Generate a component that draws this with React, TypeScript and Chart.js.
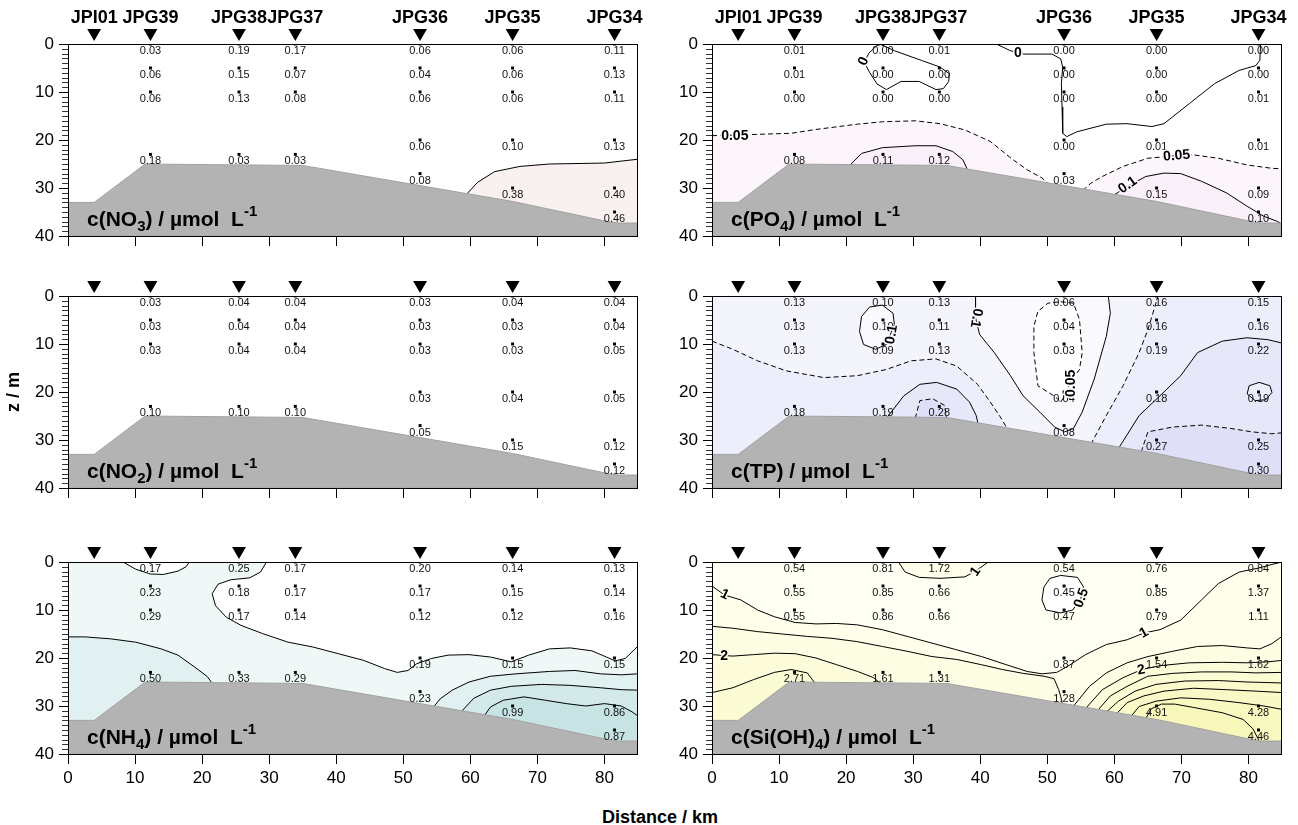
import React, { useEffect, useRef } from 'react';
import { Chart, registerables } from 'chart.js';

Chart.register(...registerables);

const FONT = '"Liberation Sans", Arial, Helvetica, sans-serif';
Chart.defaults.font.family = FONT;

// ---------------- stations & sampling ----------------
const STATION_NAMES = ['JPI01', 'JPG39', 'JPG38', 'JPG37', 'JPG36', 'JPG35', 'JPG34'];
const STATION_KM = [3.9, 12.3, 25.5, 33.9, 52.5, 66.3, 81.5];
const MARKER_DEPTH = -2.3;
const SAMPLED_STATIONS = [1, 2, 3, 4, 5, 6];
const SAMPLE_DEPTHS = [
  [0, 5, 10, 23],
  [0, 5, 10, 23],
  [0, 5, 10, 23],
  [0, 5, 10, 20, 27],
  [0, 5, 10, 20, 30],
  [0, 5, 10, 20, 30, 35],
];
const X_TICKS = [0, 10, 20, 30, 40, 50, 60, 70, 80];
const Y_TICKS = [0, 10, 20, 30, 40];
const X_MAX = 85;
const Y_MAX = 40;

// sea floor (km, m)
const BATHYMETRY = [
  [0, 33], [3.9, 33], [11.5, 25], [35, 25.3], [52.5, 29.5], [66.3, 32.8],
  [80.5, 37], [82, 37.3], [85, 37.3], [85, 40], [0, 40],
];

// ---------------- measured values ----------------
const NO3_VALUES = [
  [0.03, 0.06, 0.06, 0.18],
  [0.19, 0.15, 0.13, 0.03],
  [0.17, 0.07, 0.08, 0.03],
  [0.06, 0.04, 0.06, 0.06, 0.08],
  [0.06, 0.06, 0.06, 0.10, 0.38],
  [0.11, 0.13, 0.11, 0.13, 0.40, 0.46],
];
const PO4_VALUES = [
  [0.01, 0.01, 0.00, 0.08],
  [0.00, 0.00, 0.00, 0.11],
  [0.01, 0.00, 0.00, 0.12],
  [0.00, 0.00, 0.00, 0.00, 0.03],
  [0.00, 0.00, 0.00, 0.01, 0.15],
  [0.00, 0.00, 0.01, 0.01, 0.09, 0.10],
];
const NO2_VALUES = [
  [0.03, 0.03, 0.03, 0.10],
  [0.04, 0.04, 0.04, 0.10],
  [0.04, 0.04, 0.04, 0.10],
  [0.03, 0.03, 0.03, 0.03, 0.05],
  [0.04, 0.03, 0.03, 0.04, 0.15],
  [0.04, 0.04, 0.05, 0.05, 0.12, 0.12],
];
const TP_VALUES = [
  [0.13, 0.13, 0.13, 0.18],
  [0.10, 0.10, 0.09, 0.19],
  [0.13, 0.11, 0.13, 0.28],
  [0.06, 0.04, 0.03, 0.04, 0.08],
  [0.16, 0.16, 0.19, 0.18, 0.27],
  [0.15, 0.16, 0.22, 0.19, 0.25, 0.30],
];
const NH4_VALUES = [
  [0.17, 0.23, 0.29, 0.50],
  [0.25, 0.18, 0.17, 0.33],
  [0.17, 0.17, 0.14, 0.29],
  [0.20, 0.17, 0.12, 0.19, 0.23],
  [0.14, 0.15, 0.12, 0.15, 0.99],
  [0.13, 0.14, 0.16, 0.15, 0.86, 0.87],
];
const SI_VALUES = [
  [0.54, 0.55, 0.55, 2.71],
  [0.81, 0.85, 0.86, 1.61],
  [1.72, 0.66, 0.66, 1.31],
  [0.54, 0.45, 0.47, 0.87, 1.28],
  [0.76, 0.85, 0.79, 1.54, 4.91],
  [0.84, 1.37, 1.11, 1.62, 4.28, 4.46],
];

// ---------------- isolines (km, m) ----------------
const NO3_ISO_020 = [[59.3, 31.5], [61.1, 28.8], [63.6, 26.6], [67.4, 25.5], [71.8, 25.0], [80, 24.8], [82.5, 24.4], [85, 24.0]];

const PO4_ISO_000_A = [[25.2, 0.1], [27.2, 1.4], [31.2, 3.4], [34.0, 4.8], [35.4, 6.2], [35.3, 7.8], [34.5, 9.3], [33.4, 9.5], [30.9, 7.8], [28.2, 7.8], [26.0, 9.5], [24.6, 8.3], [23.5, 5.9], [22.7, 3.8], [23.4, 1.9], [24.6, 0.3], [25.2, 0.1]];
const PO4_ISO_000_B = [[42.4, 0], [44.5, 1.4], [46.5, 2.1], [50.7, 2.1], [52.0, 3.1], [52.3, 4.8], [52.1, 8.3], [52.2, 13.1], [52.3, 18.6], [52.9, 19.3], [54.4, 18.3], [58.8, 16.7], [61.9, 16.6], [65.6, 17.2], [67.4, 16.6], [71.2, 12.4], [74.9, 8.3], [78.6, 5.5], [81.1, 4.5], [81.7, 3.4], [81.8, 0]];
const PO4_ISO_005_A = [[0, 19.1], [5, 18.9], [11.8, 18.6], [15.5, 17.8], [21.7, 16.7], [25.4, 16.2], [30.3, 16.0], [34.0, 16.6], [37.7, 17.9], [41.5, 20.3], [44.6, 23.8], [47.0, 26.2], [49.2, 27.9], [50.3, 29.3]];
const PO4_ISO_005_B = [[55.3, 30.5], [56.5, 29.0], [58.2, 27.6], [61.3, 25.5], [65.0, 23.8], [69, 23.3], [71.8, 23.1], [75.5, 23.8], [79.8, 25.2], [83.5, 25.9], [85, 26.0]];
const PO4_ISO_010_A = [[20.4, 25.5], [22.3, 22.8], [25.4, 21.6], [30.3, 21.2], [33.4, 21.2], [35.9, 22.4], [37.4, 24.1], [38.2, 26.5]];
const PO4_ISO_010_B = [[59.8, 31.6], [61.9, 29.7], [64.7, 27.6], [67.4, 26.9], [69.9, 27.0], [73, 28.6], [76.7, 31.0], [79.8, 33.8], [82.3, 35.9], [84.2, 36.9], [85, 37.5]];

const TP_ISO_010_A = [[25.4, 1.9], [27.0, 3.6], [27.2, 6.0], [26.6, 8.0], [26.0, 10.1], [24.4, 11.1], [22.6, 10.1], [22.0, 7.4], [22.3, 4.3], [23.5, 2.3], [25.4, 1.9]];
const TP_ISO_010_B = [[39.3, 0], [39.3, 4.5], [39.9, 8.0], [42.1, 11.8], [44.5, 16.6], [46.4, 20.8], [48.9, 24.2], [51.1, 27.3], [52.6, 28.3], [53.9, 27.6], [55.2, 24.2], [57.0, 17.3], [58.8, 8.4], [59.4, 3.6], [59.1, 0]];
const TP_ISO_005 = [[52.0, 1.2], [53.9, 1.5], [54.8, 4.9], [55.2, 11.8], [54.8, 15.3], [53.4, 18.0], [52.6, 20.8], [52.0, 22.1], [51.2, 21.0], [48.6, 18.7], [48.0, 11.8], [48.0, 6.3], [48.6, 3.2], [50.1, 1.5], [52.0, 1.2]];
const TP_ISO_015_L = [[0, 9.4], [3.1, 11.1], [6.8, 13.5], [11.1, 15.6], [16.7, 17.0], [21.7, 16.6], [26.0, 15.3], [29.7, 13.5], [33.4, 13.1], [36.5, 14.6], [39.6, 18.4], [41.5, 22.1], [43.0, 25.2], [44.1, 27.8]];
const TP_ISO_020_L = [[26.0, 25.5], [28.6, 20.8], [31.0, 18.4], [33.5, 18.0], [36.5, 19.4], [38.4, 22.1], [39.4, 24.9], [39.7, 26.8]];
const TP_ISO_025_L = [[30.3, 25.5], [31.0, 21.8], [32.9, 21.4], [34.7, 22.8], [35.0, 25.6]];
const TP_ISO_015_R = [[56.5, 30.9], [58.8, 24.9], [61.3, 18.7], [63.7, 11.8], [65.0, 7.0], [65.9, 2.9], [66.5, 0]];
const TP_ISO_020_R = [[60.6, 31.8], [63.7, 24.9], [66.8, 20.8], [69.9, 16.6], [72.4, 11.8], [76.1, 9.4], [79.8, 8.7], [82.9, 9.1], [85, 9.8]];
const TP_ISO_020_LOOP = [[80.1, 18.7], [81.6, 18.0], [83.2, 18.7], [83.5, 20.1], [82.6, 21.6], [81.0, 21.8], [79.8, 20.4], [80.1, 18.7]];
const TP_ISO_025_R = [[64.0, 32.5], [65.0, 28.3], [68.7, 27.3], [73.0, 26.9], [77.4, 27.6], [80.5, 28.3], [83.5, 28.7], [85, 28.5]];

const NH4_ISO_020_A = [[8.2, 0], [10.1, 1.5], [12.3, 2.5], [14.2, 2.6], [16.4, 1.9], [17.6, 1.0], [18.1, 0]];
const NH4_ISO_020_B = [[29.6, 0], [28.7, 2.1], [27.1, 3.3], [24.3, 3.7], [22.4, 4.6], [21.5, 6.6], [22.0, 9.1], [23.6, 11.5], [25.8, 13.2], [29.0, 14.9], [32.8, 16.7], [36.5, 17.7], [40.3, 19.1], [44.1, 20.5], [47.2, 22.2], [49.1, 23.0], [50.7, 22.6], [52.0, 21.2], [54.2, 20.1], [56.7, 19.4], [59.8, 19.3], [63.0, 19.8], [66.1, 20.8], [68.7, 19.4], [71.8, 18.1], [74.9, 17.9], [78.1, 18.5], [80.3, 19.8], [81.6, 20.6], [83.1, 20.1], [85, 17.5]];
const NH4_ISO_040_L = [[0, 15.6], [2.5, 15.6], [6.3, 16.0], [10.1, 16.7], [13.9, 18.1], [16.4, 19.4], [18.9, 21.9], [20.8, 23.9], [21.6, 25.5]];
const NH4_ISO_040_R = [[54.4, 30.4], [55.5, 28.5], [57.3, 26.7], [59.8, 25.0], [63.0, 23.8], [66.8, 23.3], [71.8, 22.8], [75.6, 22.6], [79.4, 23.3], [82.5, 23.5], [85, 23.3]];
const NH4_ISO_060 = [[58.5, 31.4], [60.5, 28.4], [63.0, 26.7], [66.1, 25.9], [70.6, 25.5], [74.9, 25.7], [79.4, 26.2], [82.5, 26.6], [85, 26.7]];
const NH4_ISO_080 = [[62.0, 32.2], [63.0, 30.2], [64.9, 28.8], [68.0, 28.1], [71.2, 28.8], [74.3, 29.5], [77.2, 30.0], [80, 29.5], [82.5, 30.0], [84.1, 31.2], [85, 32.1]];

const SI_ISO_10_TOP = [[27.8, 0], [28.8, 2.1], [30.9, 3.2], [34.0, 3.4], [37.7, 3.1], [39.3, 1.9], [41.2, 0]];
const SI_ISO_05 = [[52, 2.8], [54.5, 3.2], [55.4, 5.2], [55, 7.6], [53.8, 10], [52, 10.6], [49.8, 10], [49.2, 7.9], [49.5, 5.2], [50.4, 3.4], [52, 2.8]];
const SI_ISO_10 = [[0, 5.0], [1.9, 6.9], [4.3, 7.9], [6.8, 10], [9.3, 11.4], [12.4, 12.6], [15.5, 12.9], [18.6, 12.8], [21.7, 13.1], [25.4, 14.1], [29.1, 15.5], [32.8, 16.9], [36.5, 18.3], [40.2, 19.7], [43.9, 21.4], [47.0, 22.8], [49.2, 23.3], [51.4, 23.0], [53.2, 21.6], [55.7, 19.3], [58.8, 17.2], [61.9, 16.2], [64.4, 14.8], [66.8, 14.1], [69.9, 12.1], [73.0, 7.9], [75.5, 4.5], [78.6, 2.1], [81.7, 1.2], [83.5, 0.5], [85, 0]];
const SI_ISO_15_L = [[0, 13.4], [3.1, 13.8], [6.8, 14.5], [10.5, 15.0], [14.2, 15.5], [17.9, 15.9], [21.7, 16.6], [25.4, 17.6], [29.1, 18.6], [32.8, 19.7], [36.5, 20.3], [40.2, 21.4], [43.3, 22.4], [46.4, 23.2], [49.5, 23.8], [51.0, 24.3], [51.7, 26.6], [52.0, 28.0], [52.3, 29.9]];
const SI_ISO_20_L = [[0, 19.3], [3.1, 19.6], [6.2, 19.3], [9.3, 19.0], [12.4, 19.1], [15.5, 20.0], [18.6, 21.4], [21.7, 22.8], [24.1, 24.1], [25.4, 25.6]];
const SI_ISO_25_L = [[0, 27.2], [3.1, 26.2], [6.2, 24.5], [9.3, 23.0], [11.8, 22.4], [14.2, 23.1], [15.5, 25.5]];
const SI_ISO_15_R = [[53.8, 30.2], [56.3, 25.9], [58.8, 23.1], [61.9, 21.0], [65.0, 19.7], [68.7, 18.6], [72.4, 17.6], [76.1, 17.4], [79.8, 17.9], [81.7, 18.1], [83.5, 17.0], [85, 15.5]];
const SI_ISO_20_R = [[55.6, 30.7], [58.2, 26.6], [61.3, 24.1], [64.1, 22.4], [66.8, 21.6], [71.2, 21.0], [76.1, 20.9], [79.8, 21.0], [82.9, 20.8], [85, 20.5]];
const SI_ISO_25_R = [[57.4, 31.1], [59.4, 27.9], [61.9, 25.9], [65.0, 23.8], [68.7, 23.2], [73.0, 22.9], [77.4, 22.9], [81.1, 23.1], [85, 23.0]];
const SI_ISO_30_R = [[58.7, 31.4], [60.6, 29.0], [63.1, 26.9], [66.2, 25.5], [70.5, 24.8], [75.5, 24.7], [79.8, 25.0], [85, 25.2]];
const SI_ISO_35_R = [[60.2, 31.8], [61.9, 29.3], [64.4, 27.9], [67.4, 26.9], [71.8, 26.3], [76.7, 26.6], [81.1, 26.9], [85, 27.2]];
const SI_ISO_40_R = [[62.4, 32.3], [63.7, 30.1], [66.2, 29.0], [69.9, 28.3], [74.2, 28.6], [78.6, 29.3], [82.3, 30.0], [85, 30.7]];
const SI_ISO_45_R = [[64.6, 32.8], [65.5, 30.6], [67.0, 29.6], [69.0, 29.6], [71.8, 30.3], [76.1, 31.4], [79.2, 32.8], [80.7, 34.8], [81.7, 37.6]];

const FULL_SECTION = [[0, 0], [85, 0], [85, 40], [0, 40]];

// ---------------- panel definitions ----------------
type Seg = { t: string; sub?: boolean; sup?: boolean };
type Band = { pts: number[][]; color: string };
type Iso = { pts: number[][]; dashed?: boolean };
type Lbl = { t: string; x: number; y: number; rot: number; halo: string };
type PanelCfg = {
  left: number; top: number; width: number; padRight: number;
  values: number[][]; title: Seg[]; bands: Band[]; lines: Iso[]; labels: Lbl[];
  names: boolean; yTitle: boolean; xLabels: boolean;
};

const unitTail: Seg[] = [{ t: ') / \u00b5mol  L' }, { t: '-1', sup: true }];

const LEFT_COL = { left: 0, width: 644, padRight: 6 };
const RIGHT_COL = { left: 644, width: 654, padRight: 16 };
const ROW_TOPS = [0, 252, 518];

const PANELS: PanelCfg[] = [
  {
    ...LEFT_COL, top: ROW_TOPS[0], values: NO3_VALUES, names: true, yTitle: false, xLabels: false,
    title: [{ t: 'c(NO' }, { t: '3', sub: true }, ...unitTail],
    bands: [{ pts: [...NO3_ISO_020, [85, 40], [59.3, 40]], color: '#f8f1f0' }],
    lines: [{ pts: NO3_ISO_020 }],
    labels: [],
  },
  {
    ...RIGHT_COL, top: ROW_TOPS[0], values: PO4_VALUES, names: true, yTitle: false, xLabels: false,
    title: [{ t: 'c(PO' }, { t: '4', sub: true }, ...unitTail],
    bands: [
      { pts: [...PO4_ISO_005_A, [52.5, 31.5], ...PO4_ISO_005_B, [85, 40], [0, 40]], color: '#fcf6fc' },
      { pts: [...PO4_ISO_010_A, [38.2, 40], [20.4, 40]], color: '#f9f0f9' },
      { pts: [...PO4_ISO_010_B, [85, 40], [59.8, 40]], color: '#f9f0f9' },
    ],
    lines: [
      { pts: PO4_ISO_000_A }, { pts: PO4_ISO_000_B },
      { pts: PO4_ISO_005_A, dashed: true }, { pts: PO4_ISO_005_B, dashed: true },
      { pts: PO4_ISO_010_A }, { pts: PO4_ISO_010_B },
    ],
    labels: [
      { t: '0', x: 22.6, y: 3.6, rot: -65, halo: '#ffffff' },
      { t: '0', x: 45.6, y: 1.9, rot: 0, halo: '#ffffff' },
      { t: '0.05', x: 3.4, y: 19.2, rot: 0, halo: '#ffffff' },
      { t: '0.05', x: 69.3, y: 23.3, rot: -5, halo: '#fdf8fd' },
      { t: '0.1', x: 62.0, y: 29.4, rot: -35, halo: '#fcf6fc' },
    ],
  },
  {
    ...LEFT_COL, top: ROW_TOPS[1], values: NO2_VALUES, names: false, yTitle: true, xLabels: false,
    title: [{ t: 'c(NO' }, { t: '2', sub: true }, ...unitTail],
    bands: [], lines: [], labels: [],
  },
  {
    ...RIGHT_COL, top: ROW_TOPS[1], values: TP_VALUES, names: false, yTitle: false, xLabels: false,
    title: [{ t: 'c(TP' }, ...unitTail],
    bands: [
      { pts: FULL_SECTION, color: '#f4f4fd' },
      { pts: [...TP_ISO_015_L, [44.1, 40], [0, 40]], color: '#edeefb' },
      { pts: [...TP_ISO_020_L, [39.7, 40], [26.0, 40]], color: '#e6e7f9' },
      { pts: [...TP_ISO_025_L, [35.0, 40], [30.3, 40]], color: '#dfe0f7' },
      { pts: [...TP_ISO_015_R, [85, 0], [85, 40], [56.5, 40]], color: '#edeefb' },
      { pts: [...TP_ISO_020_R, [85, 40], [60.6, 40]], color: '#e6e7f9' },
      { pts: TP_ISO_020_LOOP, color: '#edeefb' },
      { pts: [...TP_ISO_025_R, [85, 40], [64.0, 40]], color: '#dfe0f7' },
      { pts: TP_ISO_010_B, color: '#f9f9fe' },
      { pts: TP_ISO_005, color: '#ffffff' },
      { pts: TP_ISO_010_A, color: '#f9f9fe' },
    ],
    lines: [
      { pts: TP_ISO_010_A }, { pts: TP_ISO_010_B }, { pts: TP_ISO_005, dashed: true },
      { pts: TP_ISO_015_L, dashed: true }, { pts: TP_ISO_020_L }, { pts: TP_ISO_025_L, dashed: true },
      { pts: TP_ISO_015_R, dashed: true }, { pts: TP_ISO_020_R }, { pts: TP_ISO_020_LOOP },
      { pts: TP_ISO_025_R, dashed: true },
    ],
    labels: [
      { t: '0.1', x: 39.4, y: 4.6, rot: 100, halo: '#f6f6fd' },
      { t: '0.1', x: 26.8, y: 8.0, rot: -80, halo: '#f6f6fd' },
      { t: '0.05', x: 53.6, y: 18.2, rot: -90, halo: '#ffffff' },
    ],
  },
  {
    ...LEFT_COL, top: ROW_TOPS[2], values: NH4_VALUES, names: false, yTitle: false, xLabels: true,
    title: [{ t: 'c(NH' }, { t: '4', sub: true }, ...unitTail],
    bands: [
      { pts: FULL_SECTION, color: '#eff7f7' },
      { pts: [...NH4_ISO_020_B, [85, 0]], color: '#ffffff' },
      { pts: NH4_ISO_020_A, color: '#ffffff' },
      { pts: [...NH4_ISO_040_L, [21.6, 40], [0, 40]], color: '#e1f0f0' },
      { pts: [...NH4_ISO_040_R, [85, 40], [54.4, 40]], color: '#e1f0f0' },
      { pts: [...NH4_ISO_060, [85, 40], [58.5, 40]], color: '#d4e9e9' },
      { pts: [...NH4_ISO_080, [85, 40], [62.0, 40]], color: '#c8e3e3' },
    ],
    lines: [
      { pts: NH4_ISO_020_A }, { pts: NH4_ISO_020_B }, { pts: NH4_ISO_040_L },
      { pts: NH4_ISO_040_R }, { pts: NH4_ISO_060 }, { pts: NH4_ISO_080 },
    ],
    labels: [],
  },
  {
    ...RIGHT_COL, top: ROW_TOPS[2], values: SI_VALUES, names: false, yTitle: false, xLabels: true,
    title: [{ t: 'c(Si(OH)' }, { t: '4', sub: true }, ...unitTail],
    bands: [
      { pts: FULL_SECTION, color: '#fffff4' },
      { pts: SI_ISO_05, color: '#ffffff' },
      { pts: SI_ISO_10_TOP, color: '#fefeeb' },
      { pts: [...SI_ISO_10, [85, 40], [0, 40]], color: '#fefeeb' },
      { pts: [...SI_ISO_15_L, [52.3, 40], [0, 40]], color: '#fdfde3' },
      { pts: [...SI_ISO_15_R, [85, 40], [53.8, 40]], color: '#fdfde3' },
      { pts: [...SI_ISO_20_L, [25.4, 40], [0, 40]], color: '#fcfcdb' },
      { pts: [...SI_ISO_20_R, [85, 40], [55.6, 40]], color: '#fcfcdb' },
      { pts: [...SI_ISO_25_L, [15.5, 40], [0, 40]], color: '#fbfbd4' },
      { pts: [...SI_ISO_25_R, [85, 40], [57.4, 40]], color: '#fbfbd4' },
      { pts: [...SI_ISO_30_R, [85, 40], [58.7, 40]], color: '#fafacd' },
      { pts: [...SI_ISO_35_R, [85, 40], [60.2, 40]], color: '#f9f9c7' },
      { pts: [...SI_ISO_40_R, [85, 40], [62.4, 40]], color: '#f8f8c1' },
      { pts: [...SI_ISO_45_R, [81.7, 40], [64.6, 40]], color: '#f7f7bb' },
    ],
    lines: [
      { pts: SI_ISO_10_TOP }, { pts: SI_ISO_05 }, { pts: SI_ISO_10 }, { pts: SI_ISO_15_L },
      { pts: SI_ISO_20_L }, { pts: SI_ISO_25_L }, { pts: SI_ISO_15_R }, { pts: SI_ISO_20_R },
      { pts: SI_ISO_25_R }, { pts: SI_ISO_30_R }, { pts: SI_ISO_35_R }, { pts: SI_ISO_40_R },
      { pts: SI_ISO_45_R },
    ],
    labels: [
      { t: '1', x: 1.9, y: 6.8, rot: 25, halo: '#fefef0' },
      { t: '2', x: 1.8, y: 19.6, rot: 0, halo: '#fdfde3' },
      { t: '1', x: 39.3, y: 2.0, rot: -55, halo: '#fffff4' },
      { t: '0.5', x: 55.1, y: 7.5, rot: -70, halo: '#fffff4' },
      { t: '1', x: 64.4, y: 14.8, rot: -30, halo: '#fffff4' },
      { t: '2', x: 64.0, y: 22.5, rot: -10, halo: '#fdfde3' },
    ],
  },
];

const CANVAS_H = 272;
const PLOT_TOP = 44;
const Y_AXIS_W = 68;
const X_AXIS_H = 36;

const toXY = (a: number[][]) => a.map(([x, y]) => ({ x, y }));

function makeDecor(cfg: PanelCfg) {
  return {
    id: 'decor',
    afterDatasetsDraw(chart: any) {
      const { ctx, chartArea: a, scales } = chart;
      const xs = scales.x;
      const ys = scales.y;
      ctx.save();
      // sample values
      ctx.font = `11px ${FONT}`;
      ctx.fillStyle = '#111';
      ctx.textAlign = 'center';
      ctx.textBaseline = 'middle';
      cfg.values.forEach((vals, si) => {
        const km = STATION_KM[SAMPLED_STATIONS[si]];
        SAMPLE_DEPTHS[si].forEach((d, j) => {
          ctx.fillText(vals[j].toFixed(2), xs.getPixelForValue(km), ys.getPixelForValue(d) + 7);
        });
      });
      // contour labels
      cfg.labels.forEach((l) => {
        ctx.save();
        ctx.translate(xs.getPixelForValue(l.x), ys.getPixelForValue(l.y));
        ctx.rotate((l.rot * Math.PI) / 180);
        ctx.font = `bold 14px ${FONT}`;
        ctx.lineWidth = 3;
        ctx.strokeStyle = l.halo;
        ctx.lineJoin = 'round';
        ctx.strokeText(l.t, 0, 0);
        ctx.fillStyle = '#000';
        ctx.fillText(l.t, 0, 0);
        ctx.restore();
      });
      // panel title
      ctx.textAlign = 'left';
      ctx.textBaseline = 'alphabetic';
      ctx.fillStyle = '#000';
      let cx = a.left + 19;
      const base = a.bottom - 10;
      cfg.title.forEach((s) => {
        if (s.sub) {
          ctx.font = `bold 15px ${FONT}`;
          ctx.fillText(s.t, cx, base + 5);
        } else if (s.sup) {
          ctx.font = `bold 15px ${FONT}`;
          ctx.fillText(s.t, cx, base - 10);
        } else {
          ctx.font = `bold 21px ${FONT}`;
          ctx.fillText(s.t, cx, base);
        }
        cx += ctx.measureText(s.t).width;
      });
      ctx.restore();
    },
    afterDraw(chart: any) {
      const { ctx, chartArea: a, scales } = chart;
      const ys = scales.y;
      const xs = scales.x;
      ctx.save();
      // minor y ticks
      ctx.strokeStyle = '#333';
      ctx.lineWidth = 1;
      ctx.beginPath();
      for (let v = 1; v < Y_MAX; v++) {
        if (v % 10 === 0) continue;
        const py = Math.round(ys.getPixelForValue(v)) + 0.5;
        ctx.moveTo(a.left - 6, py);
        ctx.lineTo(a.left, py);
      }
      ctx.stroke();
      // frame
      ctx.strokeStyle = '#000';
      ctx.strokeRect(a.left + 0.5, a.top + 0.5, a.right - a.left - 1, a.bottom - a.top);
      // station names
      if (cfg.names) {
        ctx.font = `bold 18px ${FONT}`;
        ctx.fillStyle = '#000';
        ctx.textAlign = 'center';
        ctx.textBaseline = 'middle';
        STATION_NAMES.forEach((n, i) => ctx.fillText(n, xs.getPixelForValue(STATION_KM[i]), a.top - 26));
      }
      ctx.restore();
    },
  };
}

function buildConfig(cfg: PanelCfg): any {
  const datasets: any[] = [];
  cfg.bands.forEach((b, i) => {
    datasets.push({
      data: toXY(b.pts), fill: 'shape', backgroundColor: b.color, borderWidth: 0,
      pointRadius: 0, tension: 0, order: 1000 - i,
    });
  });
  cfg.lines.forEach((l, i) => {
    datasets.push({
      data: toXY(l.pts), fill: false, borderColor: '#000', borderWidth: 1,
      borderDash: l.dashed ? [5, 3] : [], pointRadius: 0, tension: 0, order: 500 - i,
    });
  });
  datasets.push({
    data: toXY(BATHYMETRY), fill: 'shape', backgroundColor: '#b3b3b3', borderColor: '#a2a2a2',
    borderWidth: 1, pointRadius: 0, tension: 0, order: 50,
  });
  const samples: { x: number; y: number }[] = [];
  SAMPLED_STATIONS.forEach((st, si) => SAMPLE_DEPTHS[si].forEach((d) => samples.push({ x: STATION_KM[st], y: d })));
  datasets.push({
    data: samples, showLine: false, pointStyle: 'rect', pointRadius: 2.1,
    pointBackgroundColor: '#000', pointBorderWidth: 0, order: 20,
  });
  // station markers above the section (transparent border widens the drawable margin)
  datasets.push({
    data: STATION_KM.map((km) => ({ x: km, y: MARKER_DEPTH })), showLine: false,
    pointStyle: 'triangle', pointRotation: 180, pointRadius: 8,
    pointBackgroundColor: '#000', pointBorderColor: 'rgba(0,0,0,0)', pointBorderWidth: 6,
    clip: false, order: 10,
  });

  return {
    type: 'line',
    data: { datasets },
    options: {
      animation: false,
      responsive: false,
      events: [],
      layout: { autoPadding: false, padding: { top: PLOT_TOP, right: cfg.padRight, left: 0, bottom: 0 } },
      plugins: { legend: { display: false }, tooltip: { enabled: false }, title: { display: false } },
      scales: {
        x: {
          type: 'linear', min: 0, max: X_MAX,
          afterBuildTicks: (s: any) => { s.ticks = X_TICKS.map((v) => ({ value: v })); },
          ticks: {
            callback: (v: any) => (cfg.xLabels ? String(v) : ''),
            font: { size: 17 }, color: '#000', padding: 4, maxRotation: 0, autoSkip: false,
          },
          grid: { drawOnChartArea: false, drawTicks: true, tickLength: 10, color: '#000' },
          border: { display: false },
          afterFit: (s: any) => { s.height = X_AXIS_H; },
        },
        y: {
          type: 'linear', reverse: true, min: 0, max: Y_MAX,
          afterBuildTicks: (s: any) => { s.ticks = Y_TICKS.map((v) => ({ value: v })); },
          ticks: { font: { size: 17 }, color: '#000', padding: 5, autoSkip: false },
          grid: { drawOnChartArea: false, drawTicks: true, tickLength: 9, color: '#000' },
          border: { display: false },
          title: cfg.yTitle
            ? { display: true, text: 'z / m', color: '#000', font: { size: 18, weight: 'bold' }, padding: { top: 3, bottom: 0 } }
            : { display: false },
          afterFit: (s: any) => { s.width = Y_AXIS_W; },
        },
      },
    },
    plugins: [makeDecor(cfg)],
  };
}

function Panel({ cfg }: { cfg: PanelCfg }) {
  const ref = useRef<HTMLCanvasElement>(null);
  useEffect(() => {
    const chart = new Chart(ref.current as HTMLCanvasElement, buildConfig(cfg));
    return () => chart.destroy();
  }, [cfg]);
  return (
    <canvas
      ref={ref}
      width={cfg.width}
      height={CANVAS_H}
      style={{ position: 'absolute', left: cfg.left, top: cfg.top, width: cfg.width, height: CANVAS_H }}
    />
  );
}

export default function App() {
  return (
    <div style={{ position: 'absolute', left: 0, top: 0, width: 1298, height: 825, background: '#fff', overflow: 'hidden' }}>
      {PANELS.map((p, i) => (
        <Panel key={i} cfg={p} />
      ))}
      <div
        style={{
          position: 'absolute', left: 560, top: 806, width: 200, textAlign: 'center',
          font: `bold 18px ${FONT}`, lineHeight: '22px', color: '#000',
        }}
      >
        Distance / km
      </div>
    </div>
  );
}
